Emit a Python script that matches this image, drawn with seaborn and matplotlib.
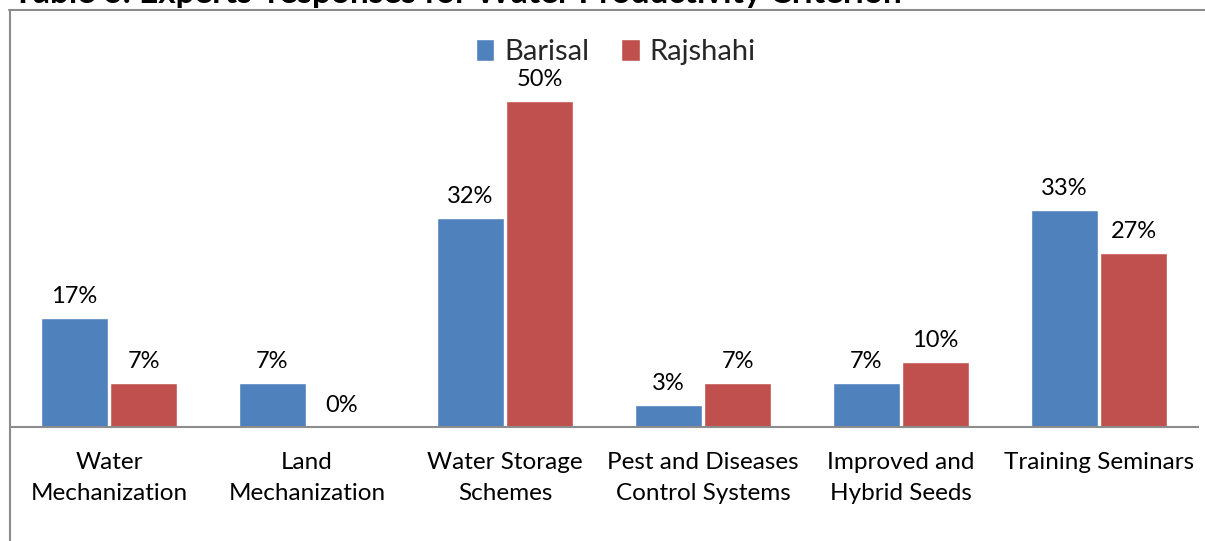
import matplotlib.pyplot as plt
import seaborn as sns
import pandas as pd

categories = ["Water\nMechanization", "Land\nMechanization", "Water Storage\nSchemes",
              "Pest and Diseases\nControl Systems", "Improved and\nHybrid Seeds", "Training Seminars"]
barisal = [16.7, 6.7, 32.0, 3.3, 6.7, 33.3]
rajshahi = [6.7, 0.0, 50.0, 6.7, 10.0, 26.7]
regions = ["Barisal", "Rajshahi"]
colors = ["#4F81BD", "#C0504D"]

df = pd.DataFrame({
    "Category": categories * 2,
    "Region": ["Barisal"] * len(categories) + ["Rajshahi"] * len(categories),
    "Value": barisal + rajshahi,
})

sns.set_theme(style="white")
plt.rcParams["font.family"] = ["Lato", "DejaVu Sans"]

W, H = 1205, 541
fig = plt.figure(figsize=(W / 100, H / 100), dpi=100)
ax = fig.add_axes([10 / W, (H - 427) / H, (1198 - 10) / W, (427 - 36) / H])

sns.barplot(data=df, x="Category", y="Value", hue="Region", hue_order=regions,
            palette=colors, width=0.697, gap=0.03, saturation=1, ax=ax)

for cont in ax.containers:
    vals = [b.get_height() for b in cont]
    ax.bar_label(cont, labels=[f"{v:.0f}%" for v in vals], padding=8, fontsize=17, color="black")

ax.set_ylim(0, 60)
ax.set_xlim(-0.5, 5.5)
ax.set_yticks([])
ax.set_xlabel("")
ax.set_ylabel("")
ax.tick_params(axis="x", length=0, pad=18, labelsize=17.5, colors="black")
for lbl in ax.get_xticklabels():
    lbl.set_linespacing(1.6)
for s in ["top", "right", "left"]:
    ax.spines[s].set_visible(False)
ax.spines["bottom"].set_color("#8c8c8c")
ax.spines["bottom"].set_linewidth(1.5)

leg = ax.legend(loc="center", bbox_to_anchor=(616 / W, 1 - 52 / H), bbox_transform=fig.transFigure,
                ncol=2, frameon=False, fontsize=21, handlelength=0.62, handleheight=0.75,
                handletextpad=0.35, columnspacing=1.1, borderaxespad=0, borderpad=0)

# outer chart frame (partly cropped)
fig.add_artist(plt.Line2D([9 / W, 1], [1 - 9.5 / H, 1 - 9.5 / H], transform=fig.transFigure,
                          color="#8c8c8c", lw=1.5))
fig.add_artist(plt.Line2D([9.5 / W, 9.5 / W], [0, 1 - 9.5 / H], transform=fig.transFigure,
                          color="#8c8c8c", lw=1.5))

fig.text(13 / W, 1 - 3 / H, "Table 6: Experts' responses for Water Productivity Criterion",
         fontsize=24, fontweight="bold", va="baseline", ha="left", color="black")

fig.savefig("out.png", dpi=100)
